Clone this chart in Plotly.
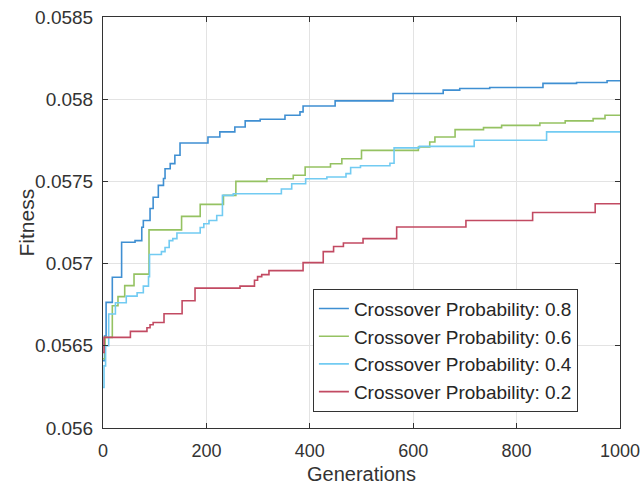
import plotly.graph_objects as go

# ---- data ----
gen_08 = [0, 3, 6, 18, 36, 62, 75, 78, 91, 97, 107, 117, 120, 130, 139, 149, 203, 226, 255, 275,
          304, 352, 381, 387, 449, 561, 658, 690, 748, 851, 916, 975, 1000]
fit_08 = [0.05641, 0.05656, 0.056764, 0.056917, 0.05713, 0.05714, 0.057221, 0.057262, 0.057335,
          0.057404, 0.057476, 0.057518, 0.057577, 0.057608, 0.057659, 0.057734, 0.05777, 0.057801,
          0.057831, 0.057868, 0.057878, 0.057902, 0.057923, 0.057959, 0.05799, 0.058035, 0.058055,
          0.058065, 0.058071, 0.058096, 0.058102, 0.058112, 0.058112]

gen_06 = [0, 4, 18, 29, 42, 60, 89, 152, 188, 233, 257, 317, 368, 391, 440, 462, 500, 610, 632,
          642, 681, 736, 771, 845, 894, 948, 971, 1000]
fit_06 = [0.056421, 0.056551, 0.056744, 0.056799, 0.056866, 0.056936, 0.057205, 0.057287, 0.05736,
          0.057415, 0.0575, 0.057516, 0.057537, 0.057588, 0.057607, 0.057638, 0.057689, 0.057709,
          0.05774, 0.05777, 0.057815, 0.057827, 0.057841, 0.057855, 0.057868, 0.057882, 0.057902,
          0.057902]

gen_04 = [0, 2, 5, 11, 24, 45, 66, 78, 88, 90, 113, 120, 128, 135, 143, 188, 195, 205, 220, 231,
          252, 345, 365, 392, 433, 470, 479, 498, 555, 563, 612, 718, 858, 1000]
fit_04 = [0.056246, 0.056378, 0.0565, 0.056693, 0.056762, 0.056802, 0.056823, 0.056863, 0.056921,
          0.057055, 0.057073, 0.057098, 0.05714, 0.057152, 0.057186, 0.05722, 0.057242, 0.057262,
          0.057293, 0.057415, 0.057425, 0.057454, 0.057486, 0.057516, 0.057527, 0.057547, 0.057585,
          0.057595, 0.05761, 0.057704, 0.057713, 0.05775, 0.057801, 0.057801]

gen_02 = [0, 2, 53, 85, 91, 97, 118, 153, 178, 265, 293, 299, 307, 321, 387, 426, 446, 465, 503,
          568, 702, 831, 952, 1000]
fit_02 = [0.056459, 0.056551, 0.056588, 0.05661, 0.056628, 0.056642, 0.056695, 0.056774, 0.056851,
          0.056863, 0.056899, 0.056921, 0.056933, 0.056957, 0.057006, 0.057073, 0.057104, 0.057125,
          0.057152, 0.057223, 0.057262, 0.057311, 0.057364, 0.057364]

series_names = ["Crossover Probability: 0.8", "Crossover Probability: 0.6",
                "Crossover Probability: 0.4", "Crossover Probability: 0.2"]
series_colors = ["#3f8fd2", "#95c262", "#72cbf2", "#c24a62"]

x_ticks = [0, 200, 400, 600, 800, 1000]
y_ticks = [0.056, 0.0565, 0.057, 0.0575, 0.058, 0.0585]
y_ticktext = ["0.056", "0.0565", "0.057", "0.0575", "0.058", "0.0585"]

fig = go.Figure()
for gx, fy, name, col in zip([gen_08, gen_06, gen_04, gen_02], [fit_08, fit_06, fit_04, fit_02],
                             series_names, series_colors):
    fig.add_trace(go.Scatter(x=gx, y=fy, mode="lines", name=name, line_shape="hv",
                             line=dict(color=col, width=1.6)))

axis_common = dict(showline=True, linecolor="#333333", linewidth=1, mirror="ticks",
                   ticks="inside", ticklen=5, tickcolor="#333333", automargin=False,
                   ticklabeloverflow="allow",
                   showgrid=True, gridcolor="#e3e3e3", gridwidth=1, zeroline=False)

# page body margin is removed (post_script), so the figure fills the 641x488 window exactly
L, T, PW, PH = 103, 17, 517, 411
fig.update_layout(
    width=641, height=488,
    margin=dict(l=L, r=641 - L - PW, t=T, b=488 - T - PH),
    paper_bgcolor="white", plot_bgcolor="white",
    font=dict(family="Liberation Sans, Arial", color="#333333"),
    xaxis=dict(range=[0, 1000], tickvals=x_ticks, ticklabelstandoff=6,
               tickfont=dict(family="Liberation Sans, Arial", size=18, color="#333333"),
               title=dict(text="Generations", font=dict(size=20, color="#333333"), standoff=7),
               **axis_common),
    yaxis=dict(range=[0.056, 0.0585], tickvals=y_ticks, ticktext=y_ticktext, ticklabelstandoff=5,
               tickfont=dict(family="Liberation Sans, Arial", size=19, color="#333333"),
               **axis_common),
    legend=dict(x=0.406, y=0.339, xanchor="left", yanchor="top",
                bgcolor="white", bordercolor="#333333", borderwidth=1,
                font=dict(size=19, color="#262626"), tracegroupgap=0,
                entrywidth=228),
    annotations=[dict(text="Fitness", textangle=-90, xref="paper", yref="paper",
                      x=(26 - L) / PW, y=0.5, xanchor="center", yanchor="middle",
                      showarrow=False, font=dict(size=21, color="#333333"))],
    showlegend=True,
)

fig.write_html("out.html", config={"displayModeBar": False},
               post_script="document.body.style.margin='0px';document.body.style.overflow='hidden';")
